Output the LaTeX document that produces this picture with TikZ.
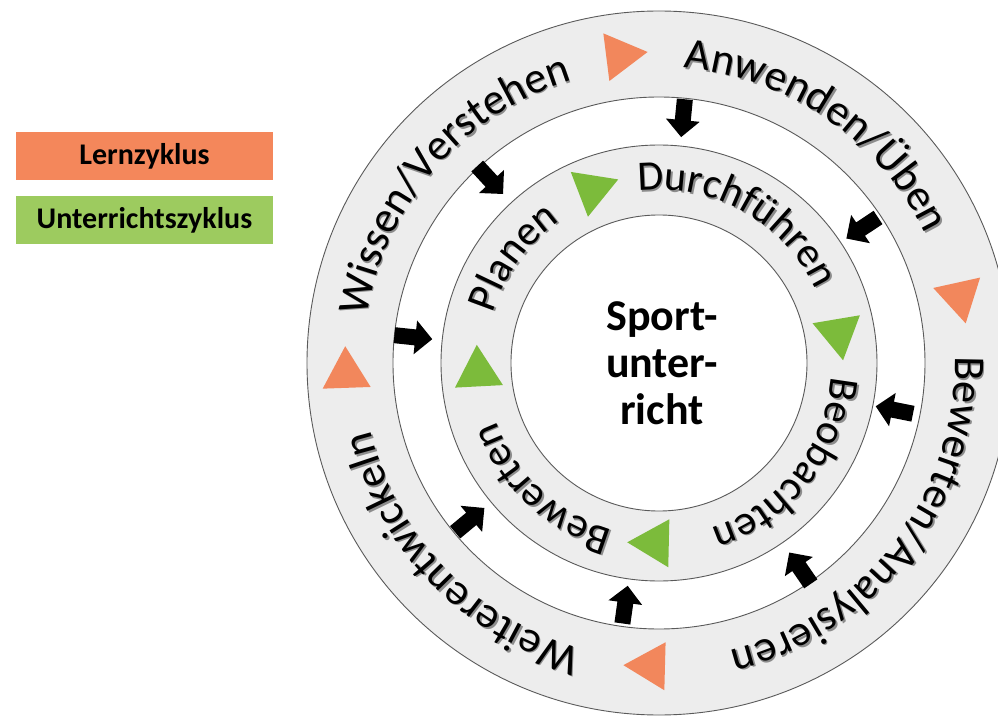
\documentclass[tikz,border=0pt]{standalone}
\usepackage{fontspec}
\setmainfont{Carlito}
\usetikzlibrary{decorations.text}
\definecolor{ringgray}{HTML}{EDEDED}
\definecolor{ringline}{HTML}{5A5A5A}
\definecolor{lernorange}{HTML}{F4875B}
\definecolor{unterrichtgreen}{HTML}{9DCB5F}
\definecolor{triorange}{HTML}{F2875C}
\definecolor{trigreen}{HTML}{7CBB3B}
\newcommand\ringtext[4]{%
  \begin{scope}[shift={(1.6,-1.6)}]
  \path[decorate, decoration={text along path, text align=center, text color=black!45,
     text={|\fontsize{#3}{#3}\selectfont|#4}}]
     (#2+85:#1) arc[start angle=#2+85, end angle=#2-85, radius=#1];
  \end{scope}
  \path[decorate, decoration={text along path, text align=center, text color=black,
     text={|\fontsize{#3}{#3}\selectfont|#4}}]
     (#2+85:#1) arc[start angle=#2+85, end angle=#2-85, radius=#1];}
\tikzset{
  inarrow/.pic={\fill[black] (-19,-8) -- (2,-8) -- (2,-17) -- (19,0) -- (2,17) -- (2,8) -- (-19,8) -- cycle;},
  tri/.pic={\fill (27.7,0) -- (-13.9,24) -- (-13.9,-24) -- cycle;}
}
\begin{document}
\begin{tikzpicture}[x=1pt,y=1pt,
  ring/.style={fill=ringgray, draw=ringline, line width=0.9pt, even odd rule},
  legendbox/.style={minimum width=257pt, minimum height=48pt, inner sep=0pt,
     font=\fontsize{30}{30}\selectfont\bfseries, text=black}]
\useasboundingbox (-659,-357) rectangle (339,363);
% rings
\path[ring] (0,0) circle[radius=352] (0,0) circle[radius=266];
\path[ring] (0,0) circle[radius=218] (0,0) circle[radius=148];
% legend
\node[legendbox, fill=lernorange] (lern) at (-514.5,207) {Lernzyklus};
\node[legendbox, fill=unterrichtgreen] (unt) at (-514.5,143) {Unterrichtszyklus};
% center
\node[align=center, font=\fontsize{44}{47}\selectfont\bfseries] (sport) at (3,0) {Sport-\\unter-\\richt};
% outer ring texts
\ringtext{296}{139}{44}{Wissen/Verstehen}
\ringtext{296}{55.5}{44}{Anwenden/Üben}
\ringtext{296}{-37.5}{44}{Bewerten/Analysieren}
\ringtext{296}{224}{44}{Weiterentwickeln}
% inner ring texts
\ringtext{173}{144}{42}{Planen}
\ringtext{173}{61}{42}{Durchführen}
\ringtext{173}{-38.5}{42}{Beobachten}
\ringtext{173}{227}{42}{Bewerten}
% orange triangles
\pic[triorange, rotate=97.2-90] at (97.2:310) {tri};
\pic[triorange, rotate=12.5-90] at (12.5:308) {tri};
\pic[triorange, rotate=268.5-90] at (268.5:303) {tri};
\pic[triorange, rotate=182-90] at (182:313) {tri};
% green triangles
\pic[trigreen, rotate=111-90] at (111:186) {tri};
\pic[trigreen, rotate=9.5-90] at (9.5:182) {tri};
\pic[trigreen, rotate=268.7-90] at (268.7:180) {tri};
\pic[trigreen, rotate=183-90] at (183:181) {tri};
% black arrows
\pic[rotate=84.4+180] at (84.4:246) {inarrow};
\pic[rotate=132.7+180] at (132.7:249) {inarrow};
\pic[rotate=33.6+180] at (33.6:244) {inarrow};
\pic[rotate=174+180] at (174:247) {inarrow};
\pic[rotate=-11.3+180] at (-11.3:240) {inarrow};
\pic[rotate=219.7+180] at (219.7:246) {inarrow};
\pic[rotate=304.5+180] at (304.5:249) {inarrow};
\pic[rotate=262+180] at (262:244) {inarrow};
\end{tikzpicture}
\end{document}
